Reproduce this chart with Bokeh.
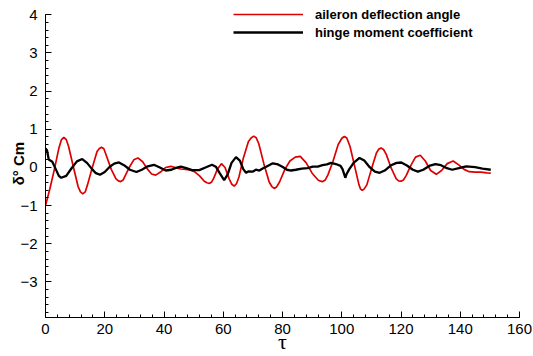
import numpy as np
from bokeh.plotting import figure
from bokeh.models import FixedTicker, Legend, LegendItem, Range1d
from bokeh.embed import file_html
from bokeh.resources import INLINE

# ---- data ----
red_t = [0, 1.5, 3, 4.5, 5.4, 6.2, 7.0, 7.8, 9.3, 11,
         11.8, 12.6, 13.4, 14.2, 15.8, 17.4, 18.1, 18.9, 19.7, 20.5,
         22.2, 23.8, 24.6, 25.4, 26.2, 27, 28.4, 29.8, 31.2, 32.8,
         34.3, 35.8, 37.2, 38.8, 40.6, 42.3, 44, 45.7, 47.4, 49,
         50.5, 52, 53.6, 54.5, 55.3, 56.1, 56.8, 58, 59.4, 60.6,
         62, 62.9, 63.7, 64.5, 65.3, 66.8, 68.5, 69.5, 70.3, 71.1,
         72, 73.7, 75.5, 76.4, 77.2, 78.0, 79, 80.8, 82.5, 84.3,
         86, 88, 90, 92, 92.8, 93.6, 94.4, 95.3, 97, 98.8,
         100.1, 100.9, 101.7, 102.8, 104.6, 105.8, 106.3, 106.9, 107.6, 108.5,
         110, 111.7, 112.5, 113.3, 114.1, 115, 116.7, 118.4, 119.2, 120,
         120.8, 121.7, 123.3, 124.9, 126.5, 128.2, 130, 131.9, 133.7, 135.6,
         137.6, 139.6, 141.3, 143, 145, 147, 149, 150.3]
aileron_deflection = [-1.0, -0.55, -0.05, 0.5, 0.73, 0.79, 0.73, 0.55, 0.05, -0.5,
                      -0.64, -0.69, -0.64, -0.45, 0.0, 0.42, 0.49, 0.53, 0.49, 0.32,
                      -0.05, -0.30, -0.35, -0.37, -0.33, -0.2, 0.02, 0.2, 0.25, 0.15,
                      -0.03, -0.17, -0.2, -0.12, 0.0, 0.03, -0.01, -0.04, -0.05, -0.07,
                      -0.12, -0.22, -0.36, -0.40, -0.42, -0.38, -0.28, -0.05, 0.1, 0.0,
                      -0.3, -0.44, -0.49, -0.42, -0.25, 0.25, 0.68, 0.78, 0.82, 0.78,
                      0.62, 0.1, -0.38, -0.5, -0.55, -0.51, -0.38, -0.05, 0.17, 0.27,
                      0.29, 0.12, -0.15, -0.33, -0.36, -0.37, -0.33, -0.2, 0.15, 0.6,
                      0.77, 0.81, 0.77, 0.55, -0.05, -0.45, -0.56, -0.6, -0.56, -0.45,
                      -0.05, 0.38, 0.48, 0.51, 0.47, 0.35, -0.02, -0.3, -0.35, -0.36,
                      -0.33, -0.22, 0.05, 0.27, 0.32, 0.17, -0.08, -0.18, -0.08, 0.1,
                      0.17, 0.06, -0.05, -0.11, -0.12, -0.12, -0.14, -0.15]

black_t = [0, 0.5, 1.1, 2.3, 3.5, 4.5, 5.3, 7, 8.8, 10.6, 12.4, 14, 15.8, 17, 18.4,
           20, 21.7, 23.2, 24.8, 26.5, 28.5, 30.7, 32.5, 34.5, 36.6, 38.6, 40.6, 42.5, 44, 45.7,
           47.5, 49.5, 51.9, 54, 56.2, 57.5, 58.8, 60.3, 61.5, 62.8, 64.3, 65.6, 66.8, 67.7, 68.6,
           69.9, 71, 72.2, 73.3, 75, 76.7, 78.5, 80.1, 81.5, 82.9, 84.5, 86.5, 88.5, 90.2, 91.9,
           93.5, 95, 96.4, 98, 99.6, 100.3, 101.2, 101.6, 102.5, 104, 106, 107.6, 109.5, 111.2, 112.8,
           114.5, 116.5, 118.5, 120.1, 122, 124, 125.7, 127.5, 129.8, 131.6, 133.5, 135.5, 137.3, 139.5, 142,
           145, 147.5, 150.3]
hinge_moment = [0.5, 0.45, 0.21, 0.15, -0.05, -0.22, -0.27, -0.22, -0.02, 0.16, 0.22, 0.12, -0.05, -0.15, -0.19,
                -0.12, 0.02, 0.1, 0.13, 0.06, -0.06, -0.12, -0.06, 0.03, 0.07, 0.0, -0.08, -0.06, -0.01, 0.02,
                -0.02, -0.07, -0.07, 0.0, 0.07, 0.02, -0.15, -0.33, -0.18, 0.12, 0.27, 0.18, -0.05, -0.14, -0.1,
                -0.11, -0.06, -0.08, -0.03, 0.04, 0.11, 0.08, 0.01, -0.06, -0.08, -0.06, -0.03, -0.02, 0.02, 0.02,
                0.06, 0.08, 0.12, 0.09, 0.04, -0.05, -0.27, -0.18, -0.05, 0.12, 0.25, 0.18, 0.0, -0.11, -0.14,
                -0.08, 0.05, 0.12, 0.13, 0.05, -0.06, -0.11, -0.06, 0.05, 0.09, 0.06, -0.02, -0.06, -0.02, 0.03,
                0.01, -0.03, -0.06]

x_ticks = [0, 20, 40, 60, 80, 100, 120, 140, 160]
y_ticks = [-3, -2, -1, 0, 1, 2, 3, 4]
y_axis_span = (-3.93, 4)
series_labels = ["aileron deflection angle", "hinge moment coefficient"]
x_title = "τ"
y_title = "δ°  Cm"

FONT = "Liberation Sans"

# a little head-room above 4 so the legend (clipped to the frame) fits; axis line stops at 4
p = figure(width=533, height=356, output_backend="svg", toolbar_location=None,
           x_range=Range1d(0, 160), y_range=Range1d(-3.93, 4.242),
           min_border_left=45, min_border_right=14, min_border_top=5, min_border_bottom=38)
p.xgrid.visible = False
p.ygrid.visible = False
p.outline_line_color = None
p.background_fill_color = "white"

r1 = p.line(red_t, aileron_deflection, line_color="#dd0000", line_width=1.7)
r2 = p.line(black_t, hinge_moment, line_color="black", line_width=2.3)

p.xaxis.ticker = FixedTicker(ticks=x_ticks, minor_ticks=list(np.arange(0, 161, 4)))
p.yaxis.ticker = FixedTicker(ticks=y_ticks, minor_ticks=[round(v, 2) for v in np.arange(-3.8, 4.01, 0.2)])

for ax in (p.xaxis[0], p.yaxis[0]):
    ax.major_tick_in = 6
    ax.major_tick_out = 0
    ax.minor_tick_in = 3
    ax.minor_tick_out = 0
    ax.axis_line_color = "black"
    ax.major_tick_line_color = "black"
    ax.minor_tick_line_color = "black"
    ax.major_label_text_font = FONT
    ax.major_label_text_font_size = "15px"
    ax.major_label_text_color = "black"

xa = p.xaxis[0]
xa.major_label_standoff = 6
xa.axis_label = x_title
xa.axis_label_text_font = "Liberation Serif"
xa.axis_label_text_font_size = "22px"
xa.axis_label_text_font_style = "normal"
xa.axis_label_text_color = "black"
xa.axis_label_standoff = -8

ya = p.yaxis[0]
ya.bounds = y_axis_span
ya.major_label_standoff = 8
ya.axis_label = y_title
ya.axis_label_text_font = FONT
ya.axis_label_text_font_size = "15px"
ya.axis_label_text_font_style = "bold"
ya.axis_label_text_color = "black"
ya.axis_label_standoff = -10

legend = Legend(items=[LegendItem(label=series_labels[0], renderers=[r1]),
                       LegendItem(label=series_labels[1], renderers=[r2])],
                location=(188, 276), border_line_color=None, background_fill_alpha=0,
                padding=0, margin=0, spacing=0, glyph_width=70, glyph_height=18, label_height=18,
                label_standoff=12, label_text_font=FONT, label_text_font_style="bold",
                label_text_font_size="13px", label_text_color="black")
p.add_layout(legend)

open("out.html", "w").write(file_html(p, INLINE))
